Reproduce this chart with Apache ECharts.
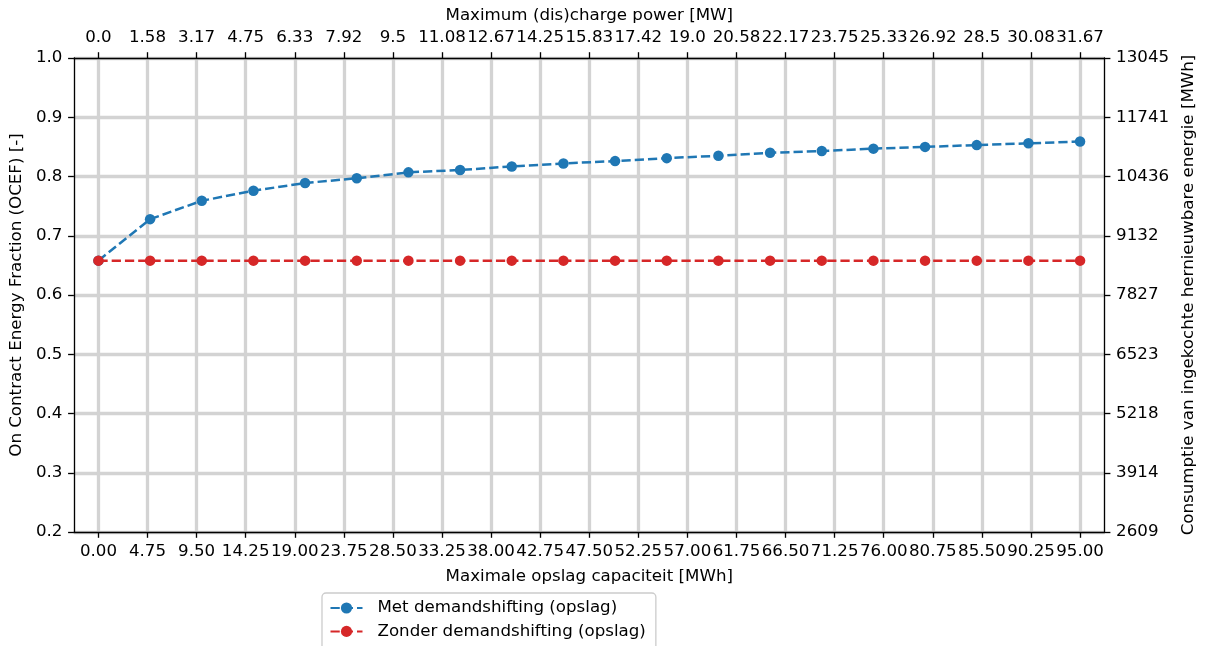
<!DOCTYPE html>
<html>
<head>
<meta charset="utf-8">
<script src="https://cdn.jsdelivr.net/npm/echarts@6/dist/echarts.min.js"></script>
<style>
  html, body { margin: 0; padding: 0; background: #fff; }
  #chart { width: 1205px; height: 646px; }
</style>
</head>
<body>
<div id="chart"></div>
<script>
// Storage capacity of each scenario [MWh]
const capacities = [0, 5, 10, 15, 20, 25, 30, 35, 40, 45, 50, 55, 60, 65, 70, 75, 80, 85, 90, 95];
// OCEF with demand shifting through storage
const ocefWith = [0.658, 0.728, 0.759, 0.776, 0.789, 0.797, 0.807, 0.811, 0.817, 0.822,
                  0.826, 0.831, 0.835, 0.840, 0.843, 0.847, 0.850, 0.853, 0.856, 0.859];
// OCEF without demand shifting
const ocefWithout = [0.658, 0.658, 0.658, 0.658, 0.658, 0.658, 0.658, 0.658, 0.658, 0.658,
                     0.658, 0.658, 0.658, 0.658, 0.658, 0.658, 0.658, 0.658, 0.658, 0.658];

// Tick positions on the capacity axis and matching labels on the power axis
const capacityTicks = [0, 4.75, 9.5, 14.25, 19, 23.75, 28.5, 33.25, 38, 42.75, 47.5,
                       52.25, 57, 61.75, 66.5, 71.25, 76, 80.75, 85.5, 90.25, 95];
const powerTickLabels = ['0.0', '1.58', '3.17', '4.75', '6.33', '7.92', '9.5', '11.08', '12.67',
                         '14.25', '15.83', '17.42', '19.0', '20.58', '22.17', '23.75', '25.33',
                         '26.92', '28.5', '30.08', '31.67'];
// OCEF ticks and the energy labels on the right axis
const ocefTicks = [0.2, 0.3, 0.4, 0.5, 0.6, 0.7, 0.8, 0.9, 1.0];
const energyTickLabels = ['2609', '3914', '5218', '6523', '7827', '9132', '10436', '11741', '13045'];

const FONT = 'DejaVu Sans';
const FS = 16.67;
const BLUE = '#1f77b4';
const RED = '#d62728';

function nearestIndex(arr, v) {
  let best = 0;
  for (let i = 1; i < arr.length; i++) {
    if (Math.abs(arr[i] - v) < Math.abs(arr[best] - v)) best = i;
  }
  return best;
}

const axisLine = { show: true, onZero: false, lineStyle: { color: '#000', width: 1.33 } };
const axisTick = (vals) => ({ show: true, length: 5.8, inside: false, customValues: vals,
                             lineStyle: { color: '#000', width: 1.33 } });
const labelBase = { color: '#000', fontFamily: FONT, fontSize: FS, margin: 11.5 };
const nameStyle = { color: '#000', fontFamily: FONT, fontSize: FS };

const chart = echarts.init(document.getElementById('chart'), null, { renderer: 'canvas' });

chart.setOption({
  animation: false,
  backgroundColor: '#fff',
  textStyle: { fontFamily: FONT },
  grid: { left: 72, right: 97, top: 58, bottom: 114, containLabel: false },
  xAxis: [
    {
      type: 'value', position: 'bottom', min: -2.375, max: 97.375,
      name: 'Maximale opslag capaciteit [MWh]', nameLocation: 'middle', nameGap: 36,
      nameTextStyle: nameStyle,
      axisLine: axisLine,
      axisTick: axisTick(capacityTicks),
      axisLabel: Object.assign({}, labelBase, {
        customValues: capacityTicks, hideOverlap: false,
        formatter: (v) => v.toFixed(2)
      }),
      splitLine: { show: true, lineStyle: { color: '#d3d3d3', width: 3.3 } }
    },
    {
      type: 'value', position: 'top', min: -2.375, max: 97.375,
      name: 'Maximum (dis)charge power [MW]', nameLocation: 'middle', nameGap: 31,
      nameTextStyle: nameStyle,
      axisLine: axisLine,
      axisTick: axisTick(capacityTicks),
      axisLabel: Object.assign({}, labelBase, {
        customValues: capacityTicks, hideOverlap: false,
        formatter: (v) => powerTickLabels[nearestIndex(capacityTicks, v)]
      }),
      splitLine: { show: false }
    }
  ],
  yAxis: [
    {
      type: 'value', position: 'left', min: 0.2, max: 1.0,
      name: 'On Contract Energy Fraction (OCEF) [-]', nameLocation: 'middle', nameGap: 40,
      nameRotate: 90, nameTextStyle: nameStyle,
      axisLine: axisLine,
      axisTick: axisTick(ocefTicks),
      axisLabel: Object.assign({}, labelBase, {
        customValues: ocefTicks, formatter: (v) => v.toFixed(1)
      }),
      splitLine: { show: true, lineStyle: { color: '#d3d3d3', width: 3.3 } }
    },
    {
      type: 'value', position: 'right', min: 0.2, max: 1.0,
      name: 'Consumptie van ingekochte hernieuwbare energie [MWh]', nameLocation: 'middle',
      nameGap: 72, nameRotate: 90, nameTextStyle: nameStyle,
      axisLine: axisLine,
      axisTick: axisTick(ocefTicks),
      axisLabel: Object.assign({}, labelBase, {
        customValues: ocefTicks,
        formatter: (v) => energyTickLabels[nearestIndex(ocefTicks, v)]
      }),
      splitLine: { show: false }
    }
  ],
  legend: {
    orient: 'vertical', left: 322, top: 593, height: 80,
    padding: [5, 10, 10, 7.5],
    itemWidth: 32, itemHeight: 14, itemGap: 3.4,
    backgroundColor: 'rgba(255,255,255,0.8)',
    borderColor: '#cccccc', borderWidth: 1.3, borderRadius: 4,
    textStyle: { color: '#000', fontFamily: FONT, fontSize: FS, lineHeight: 20,
                 padding: [0, 0, 0, 10] },
    data: ['Met demandshifting (opslag)', 'Zonder demandshifting (opslag)']
  },
  series: [
    {
      name: 'Met demandshifting (opslag)', type: 'line', xAxisIndex: 0, yAxisIndex: 0,
      data: capacities.map((c, i) => [c, ocefWith[i]]),
      symbol: 'circle', symbolSize: 10.5, showSymbol: true,
      itemStyle: { color: BLUE },
      lineStyle: { color: BLUE, width: 2.5, type: [9.25, 4] },
      z: 3
    },
    {
      name: 'Zonder demandshifting (opslag)', type: 'line', xAxisIndex: 0, yAxisIndex: 0,
      data: capacities.map((c, i) => [c, ocefWithout[i]]),
      symbol: 'circle', symbolSize: 10.5, showSymbol: true,
      itemStyle: { color: RED },
      lineStyle: { color: RED, width: 2.5, type: [9.25, 4] },
      z: 4
    }
  ]
});
</script>
</body>
</html>
